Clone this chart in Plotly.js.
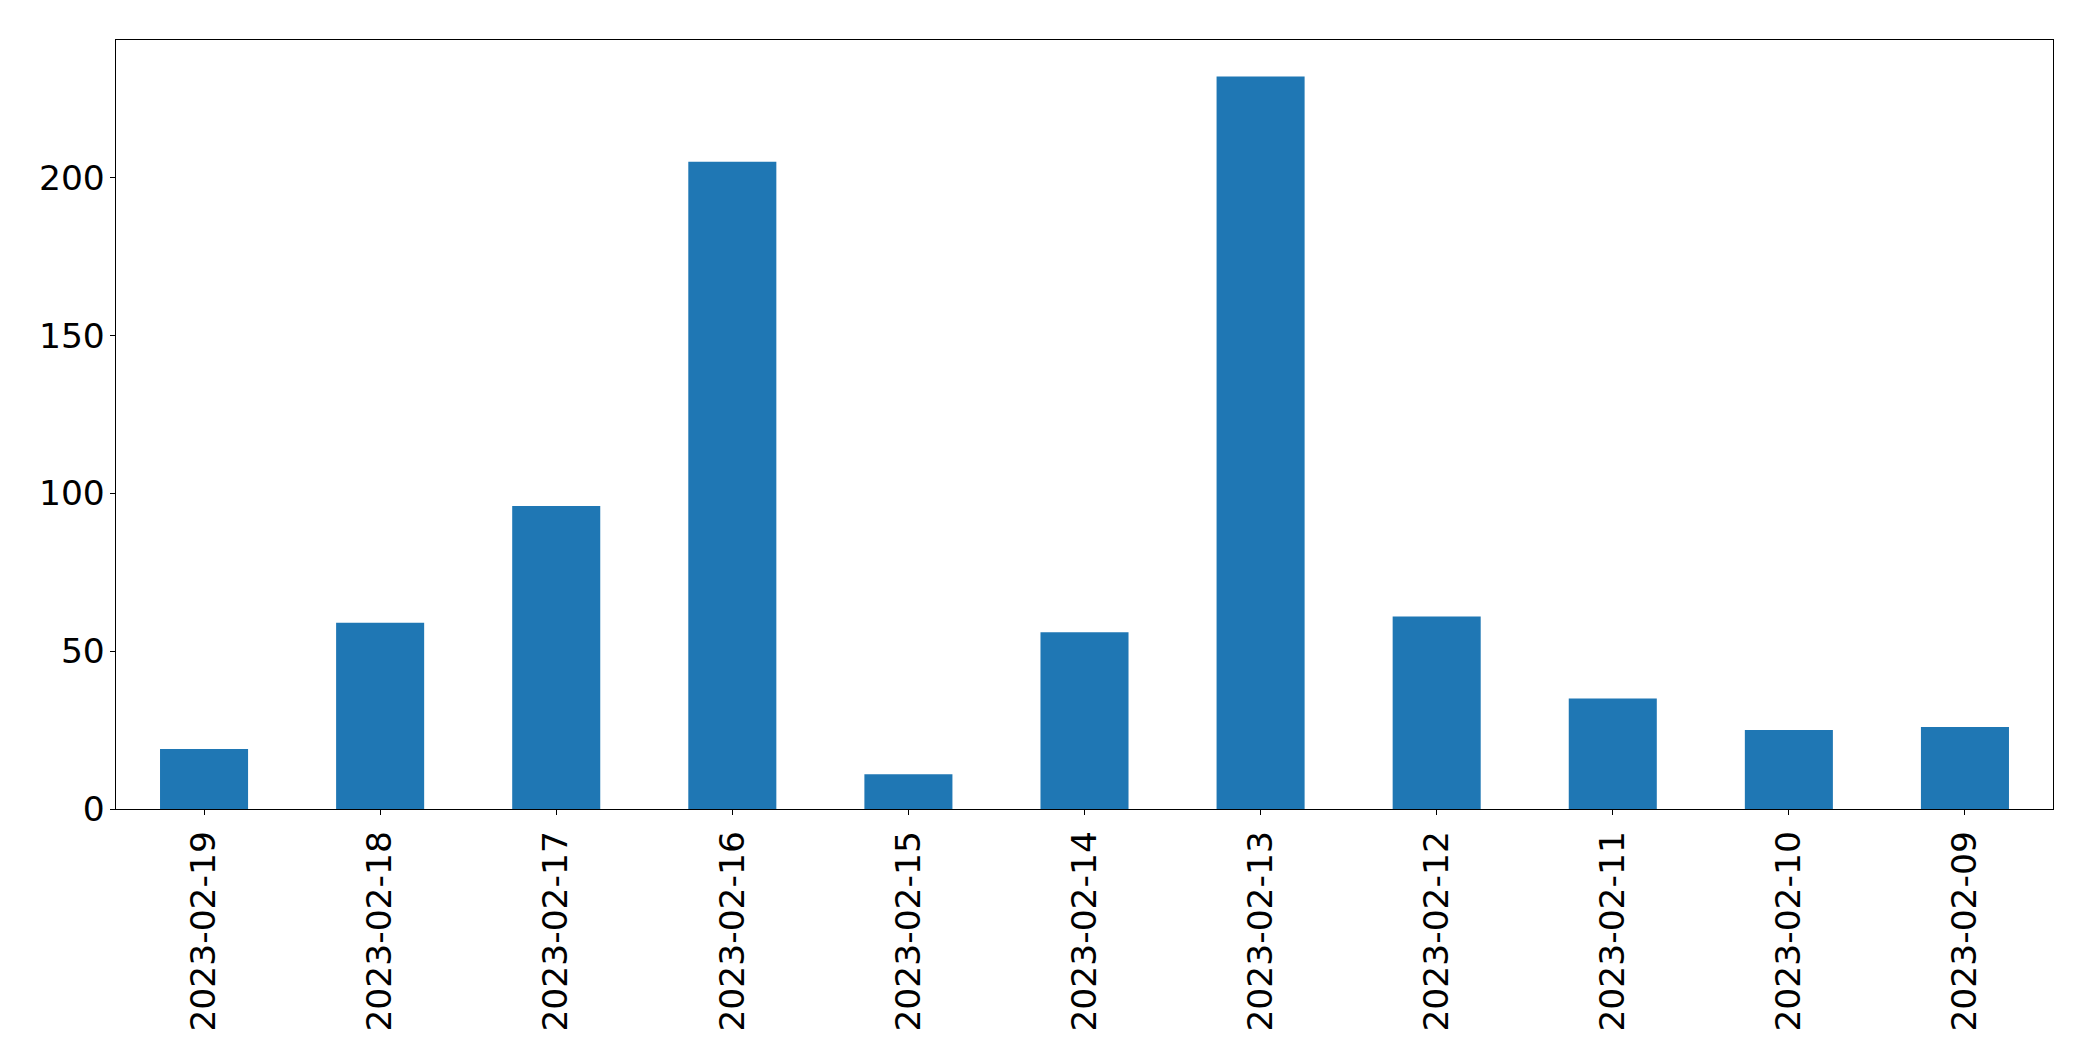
<!DOCTYPE html>
<html>
<head>
<meta charset="utf-8">
<script src="https://cdn.plot.ly/plotly-3.0.1.min.js"></script>
<style>html,body{margin:0;padding:0;background:#fff;}#chart{width:2093px;height:1061px;}</style>
</head>
<body>
<div id="chart"></div>
<script>
const dates = ["2023-02-19","2023-02-18","2023-02-17","2023-02-16","2023-02-15","2023-02-14","2023-02-13","2023-02-12","2023-02-11","2023-02-10","2023-02-09"];
const counts = [19, 59, 96, 205, 11, 56, 232, 61, 35, 25, 26];
const yTicks = [0, 50, 100, 150, 200];

const trace = {
  type: "bar",
  x: dates,
  y: counts,
  width: 0.5,
  marker: {color: "#1f77b4", line: {width: 0}},
  hoverinfo: "x+y"
};

const fontFam = "DejaVu Sans, sans-serif";
const layout = {
  width: 2093,
  height: 1061,
  margin: {l: 116, r: 40, t: 40, b: 252, pad: 0},
  paper_bgcolor: "#ffffff",
  plot_bgcolor: "#ffffff",
  showlegend: false,
  font: {family: fontFam, size: 34.5, color: "#000000"},
  xaxis: {
    type: "category",
    range: [-0.5, dates.length - 0.5],
    tickangle: -90,
    ticks: "outside",
    ticklen: 5,
    tickwidth: 1,
    tickcolor: "#000000",
    ticklabelstandoff: 2,
    showline: true,
    linecolor: "#000000",
    linewidth: 1.3,
    mirror: true,
    showgrid: false,
    zeroline: false,
    tickfont: {family: fontFam, size: 34.5, color: "#000000"}
  },
  yaxis: {
    range: [0, 243.6],
    tickmode: "array",
    tickvals: yTicks,
    ticktext: yTicks.map(String),
    ticks: "outside",
    ticklen: 5,
    tickwidth: 1,
    tickcolor: "#000000",
    ticklabelstandoff: -2,
    showline: true,
    linecolor: "#000000",
    linewidth: 1.3,
    mirror: true,
    showgrid: false,
    zeroline: false,
    tickfont: {family: fontFam, size: 34.5, color: "#000000"}
  }
};

Plotly.newPlot("chart", [trace], layout, {displayModeBar: false, staticPlot: true});
</script>
</body>
</html>
